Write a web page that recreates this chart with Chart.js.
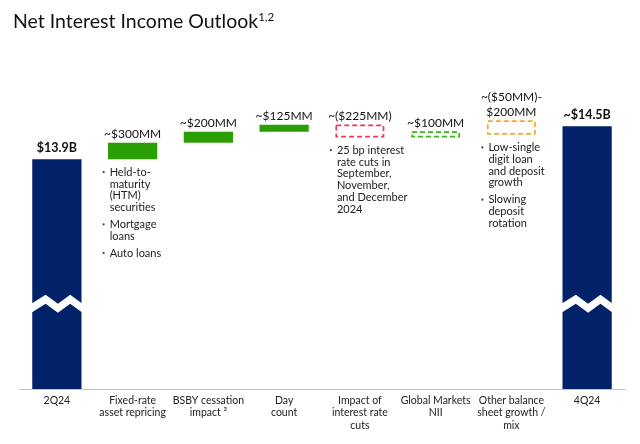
<!DOCTYPE html>
<html>
<head>
<meta charset="utf-8">
<script src="https://cdn.jsdelivr.net/npm/chart.js@4.4.1/dist/chart.umd.min.js"></script>
<style>
  html, body { margin: 0; padding: 0; background: #fff; }
  #wrap { position: relative; width: 640px; height: 444px; }
  #title {
    position: absolute; left: 13px; top: 10px;
    font-family: Lato, sans-serif; font-size: 19.5px; line-height: 22px; color: #111;
  }
  #title sup { font-size: 11.5px; vertical-align: 7px; line-height: 0; }
</style>
</head>
<body>
<div id="wrap">
  <div id="title">Net Interest Income Outlook<sup>1,2</sup></div>
  <canvas id="chart" width="640" height="444"></canvas>
</div>
<script>
// Categories (x axis)
const categories = [
  '2Q24',
  ['Fixed-rate', 'asset repricing'],
  ['BSBY cessation', 'impact \u00B3'],
  ['Day', 'count'],
  ['Impact of', 'interest rate', 'cuts'],
  ['Global Markets', 'NII'],
  ['Other balance', 'sheet growth /', 'mix'],
  '4Q24'
];

// NII in $MM
const openingNII = 13900;
const stepChanges = [300, 200, 125, -225, 100];   // fixed-rate .. global markets
const otherRange = [-50, 200];                      // other balance sheet growth / mix
const closingNII = 14500;

const barKinds = ['total', 'up', 'up', 'up', 'estDown', 'estUp', 'estRange', 'total'];

const valueLabels = [
  ['$13.9B'], ['~$300MM'], ['~$200MM'], ['~$125MM'],
  ['~($225MM)'], ['~$100MM'], ['~($50MM)-', '$200MM'], ['~$14.5B']
];

// bullet notes under some bars
const notes = [
  null,
  [['Held-to-', 'maturity', '(HTM)', 'securities'], ['Mortgage', 'loans'], ['Auto loans']],
  null,
  null,
  [['25 bp interest', 'rate cuts in', 'September,', 'November,', 'and December', '2024']],
  null,
  [['Low-single', 'digit loan', 'and deposit', 'growth'], ['Slowing', 'deposit', 'rotation']],
  null
];

// broken axis: value where the white zigzag cuts the total bars
const axisBreakAt = 11270;

const kindStyle = {
  total:    { fill: '#012169' },
  up:       { fill: '#2c9e05' },
  estDown:  { fill: 'rgba(0,0,0,0)', dash: '#ea3a52' },
  estUp:    { fill: 'rgba(0,0,0,0)', dash: '#3db31c' },
  estRange: { fill: 'rgba(0,0,0,0)', dash: '#f7aa26' }
};

// build floating bars for the waterfall
const barData = [openingNII];
let level = openingNII;
stepChanges.forEach(c => {
  barData.push([level, level + c]);
  level += c;
});
barData.push([level + otherRange[0], level + otherRange[1]]);
barData.push(closingNII);

const waterfallDecor = {
  id: 'waterfallDecor',
  afterDatasetsDraw(chart) {
    const ctx = chart.ctx;
    const yScale = chart.scales.y;
    const meta = chart.getDatasetMeta(0);
    meta.data.forEach((bar, i) => {
      const p = bar.getProps(['x', 'y', 'base', 'width'], true);
      const left = p.x - p.width / 2;
      const top = Math.min(p.y, p.base);
      const bottom = Math.max(p.y, p.base);
      const kind = barKinds[i];
      const st = kindStyle[kind];
      ctx.save();

      // dashed outline for estimated ranges
      if (st.dash) {
        ctx.strokeStyle = st.dash;
        ctx.lineWidth = 1.7;
        ctx.setLineDash([5, 3]);
        ctx.strokeRect(left + 1, top + 0.5, p.width - 2, bottom - top - 1);
        ctx.setLineDash([]);
      }

      // axis break zigzag on totals
      if (kind === 'total') {
        const by = yScale.getPixelForValue(axisBreakAt);
        const fx = [0, 0.28, 0.52, 0.76, 1];
        const dy = [0, -9, 0, -9, 0];
        ctx.fillStyle = '#fff';
        ctx.beginPath();
        fx.forEach((f, k) => {
          const xx = left - 1 + f * (p.width + 2);
          if (k === 0) ctx.moveTo(xx, by + dy[k]); else ctx.lineTo(xx, by + dy[k]);
        });
        for (let k = fx.length - 1; k >= 0; k--) {
          ctx.lineTo(left - 1 + fx[k] * (p.width + 2), by + dy[k] + 9);
        }
        ctx.closePath();
        ctx.fill();
      }

      // value label above
      const lines = valueLabels[i];
      ctx.fillStyle = '#111';
      ctx.textAlign = 'center';
      ctx.textBaseline = 'middle';
      ctx.font = kind === 'total' ? 'bold 12.5px Lato' : '12px Lato';
      const off = kind === 'total' ? 11 : 9;
      lines.forEach((t, j) => {
        ctx.fillText(t, p.x, top - off - (lines.length - 1 - j) * 15);
      });

      // bullet notes below
      if (notes[i]) {
        ctx.font = '11px Lato';
        ctx.textAlign = 'left';
        let ty = bottom + 13;
        notes[i].forEach(group => {
          ctx.fillStyle = '#444';
          ctx.beginPath();
          ctx.arc(p.x - 29, ty, 1.1, 0, Math.PI * 2);
          ctx.fill();
          ctx.fillStyle = '#222';
          group.forEach(t => {
            ctx.fillText(t, p.x - 23, ty);
            ty += 11.8;
          });
          ty += 5;
        });
      }
      ctx.restore();
    });
  }
};

Chart.defaults.font.family = 'Lato';

new Chart(document.getElementById('chart'), {
  type: 'bar',
  data: {
    labels: categories,
    datasets: [{
      data: barData,
      backgroundColor: barKinds.map(k => kindStyle[k].fill),
      borderWidth: 0,
      barPercentage: 0.65,
      categoryPercentage: 1
    }]
  },
  options: {
    responsive: false,
    animation: false,
    layout: { padding: { left: 19, right: 15, top: 80, bottom: 0 } },
    plugins: { legend: { display: false }, tooltip: { enabled: false } },
    scales: {
      x: {
        grid: { display: false, drawTicks: false },
        border: { display: true, color: '#c6c6c6', width: 1 },
        ticks: {
          color: '#222', font: { size: 10.5, lineHeight: 1.2 },
          padding: 5, maxRotation: 0, autoSkip: false
        },
        afterFit(scale) { scale.height = 55; }
      },
      y: {
        display: false,
        min: 9720,
        max: 15340
      }
    }
  },
  plugins: [waterfallDecor]
});
</script>
</body>
</html>
